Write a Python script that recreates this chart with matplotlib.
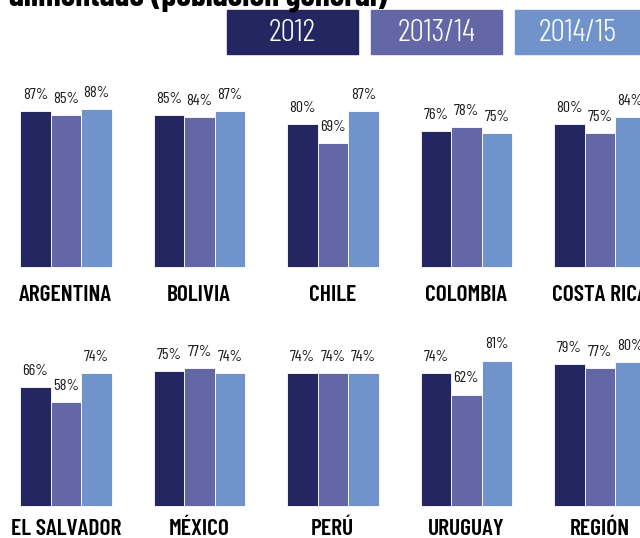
import matplotlib.pyplot as plt
from matplotlib.patches import Rectangle

# data
years = ["2012", "2013/14", "2014/15"]
colors = ["#232660", "#6367a5", "#7093cb"]

row1 = ["ARGENTINA", "BOLIVIA", "CHILE", "COLOMBIA", "COSTA RICA"]
row1_2012 = [87, 85, 80, 76, 80]
row1_2013 = [85, 84, 69, 78, 75]
row1_2014 = [88, 87, 87, 75, 84]

row2 = ["EL SALVADOR", "MÉXICO", "PERÚ", "URUGUAY", "REGIÓN"]
row2_2012 = [66, 75, 74, 74, 79]
row2_2013 = [58, 77, 74, 62, 77]
row2_2014 = [74, 74, 74, 81, 80]

W, H = 640, 538
fig = plt.figure(figsize=(W / 100, H / 100), dpi=100)
fig.patch.set_facecolor("white")

FONT = ["Barlow Condensed", "DejaVu Sans"]

bar_px = 30.5
group_px = 133.5
left_px = 20


def draw_row(names, series, base_px, name_off):
    ax = fig.add_axes([0, (H - base_px) / H, 1, 179 / H])
    ax.set_xlim(-left_px / bar_px, (W - left_px) / bar_px)
    ax.set_ylim(0, 100)
    ax.axis("off")
    step = group_px / bar_px
    for i, name in enumerate(names):
        g0 = i * step
        for j, vals in enumerate(series):
            v = vals[i]
            ax.bar(g0 + j + 0.5, v, width=1, color=colors[j],
                   edgecolor="white", linewidth=0.6, clip_on=False)
            ax.annotate(f"{v}%", (g0 + j + 0.5, v), xytext=(0, 6.5),
                        textcoords="offset points", ha="center", va="bottom",
                        fontsize=11.5, family=FONT, fontweight=400,
                        color="#1a1a1a", annotation_clip=False)
        ax.annotate(name, (g0 + 1.5, 0), xytext=(0, name_off),
                    textcoords="offset points", ha="center", va="baseline",
                    fontsize=17, family=FONT, fontweight=600,
                    color="black", annotation_clip=False)


draw_row(row1, [row1_2012, row1_2013, row1_2014], 267, -24.3)
draw_row(row2, [row2_2012, row2_2013, row2_2014], 505.5, -21.5)

# legend boxes
boxes = [(227, 358), (371, 502), (515, 650)]
for (x0, x1), lab, c in zip(boxes, years, colors):
    fig.patches.append(Rectangle((x0 / W, 1 - 54 / H), (x1 - x0) / W, 44 / H,
                                 transform=fig.transFigure, color=c))
    cx = (x0 + x1) / 2 if x1 < W else 578
    fig.text(cx / W, 1 - 33 / H, lab, ha="center", va="center",
             color="white", fontsize=23, family=FONT, fontweight=300)

# partially visible title
fig.text(9 / W, 1 - 6 / H, "alimentado (población general)", ha="left",
         va="baseline", fontsize=24, fontweight=700, family=FONT,
         color="black")

fig.savefig("out.png", dpi=100)
